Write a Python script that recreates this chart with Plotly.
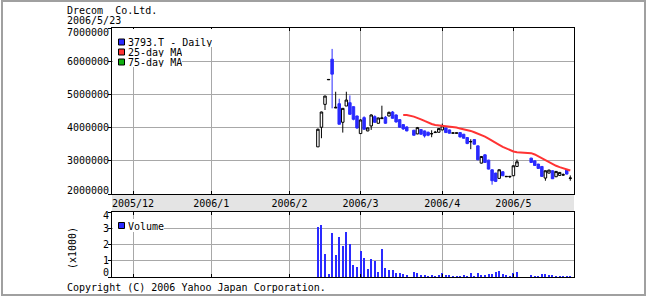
import plotly.graph_objects as go

# ---------------- data ----------------
dates = [
    "2006-02-13", "2006-02-14", "2006-02-15", "2006-02-16", "2006-02-17",
    "2006-02-20", "2006-02-21", "2006-02-22", "2006-02-23", "2006-02-24",
    "2006-02-27", "2006-02-28", "2006-03-01", "2006-03-02", "2006-03-03",
    "2006-03-06", "2006-03-07", "2006-03-08", "2006-03-09", "2006-03-10",
    "2006-03-13", "2006-03-14", "2006-03-15", "2006-03-16", "2006-03-17",
    "2006-03-20", "2006-03-22", "2006-03-23", "2006-03-24",
    "2006-03-27", "2006-03-28", "2006-03-29", "2006-03-30", "2006-03-31",
    "2006-04-03", "2006-04-04", "2006-04-05", "2006-04-06", "2006-04-07",
    "2006-04-10", "2006-04-11", "2006-04-12", "2006-04-13", "2006-04-14",
    "2006-04-17", "2006-04-18", "2006-04-19", "2006-04-20", "2006-04-21",
    "2006-04-24", "2006-04-25", "2006-04-26", "2006-04-27", "2006-04-28",
    "2006-05-01", "2006-05-02",
    "2006-05-08", "2006-05-09", "2006-05-10", "2006-05-11", "2006-05-12",
    "2006-05-15", "2006-05-16", "2006-05-17", "2006-05-18", "2006-05-19",
    "2006-05-22", "2006-05-23",
]

open_ = [
    3420000, 4010000, 4700000, 5440000, 6060000,
    4590000, 4720000, 4160000, 4650000, 4750000,
    4630000, 4350000, 3820000, 4300000, 3900000,
    4050000, 4330000, 4130000, 4270000, 4310000,
    4350000, 4470000, 4380000, 4240000, 4090000,
    4020000, 3920000, 3810000, 3940000,
    3900000, 3860000, 3810000, 3850000, 3860000,
    3930000, 3990000, 3930000, 3830000, 3830000,
    3850000, 3800000, 3700000, 3570000, 3640000,
    3450000, 2930000, 3180000, 3020000, 2730000,
    2630000, 2470000, 2670000, 2520000, 2520000,
    2550000, 2830000,
    3080000, 3000000, 2900000, 2830000, 2480000,
    2630000, 2700000, 2520000, 2560000, 2570000,
    2720000, 2470000,
]
high = [
    3970000, 4480000, 4960000, 5450000, 6370000,
    5080000, 4870000, 4590000, 5080000, 4970000,
    4640000, 4360000, 4250000, 4340000, 4000000,
    4400000, 4370000, 4300000, 4660000, 4350000,
    4480000, 4500000, 4400000, 4250000, 4100000,
    4040000, 3930000, 4020000, 3950000,
    3910000, 3880000, 3920000, 3900000, 3980000,
    4120000, 4000000, 3940000, 3850000, 3840000,
    3860000, 3810000, 3710000, 3650000, 3650000,
    3460000, 3140000, 3200000, 3030000, 2740000,
    2640000, 2740000, 2680000, 2540000, 2540000,
    2860000, 3040000,
    3090000, 3010000, 2910000, 2840000, 2710000,
    2730000, 2710000, 2690000, 2660000, 2620000,
    2730000, 2560000,
]
low = [
    3420000, 3680000, 4530000, 5440000, 4580000,
    4590000, 4100000, 3850000, 4650000, 4390000,
    4220000, 3960000, 3810000, 3930000, 3890000,
    3930000, 4150000, 4120000, 4260000, 4110000,
    4340000, 4270000, 4150000, 4000000, 3930000,
    3890000, 3760000, 3800000, 3790000,
    3700000, 3740000, 3710000, 3840000, 3850000,
    3920000, 3840000, 3820000, 3830000, 3820000,
    3700000, 3670000, 3500000, 3350000, 3490000,
    3020000, 2920000, 2940000, 2740000, 2280000,
    2360000, 2460000, 2540000, 2510000, 2480000,
    2540000, 2820000,
    2940000, 2850000, 2760000, 2520000, 2400000,
    2620000, 2450000, 2510000, 2550000, 2550000,
    2590000, 2400000,
]
close = [
    3950000, 4470000, 4950000, 5450000, 5610000,
    4610000, 4100000, 4580000, 4830000, 4400000,
    4250000, 3990000, 4230000, 3950000, 3990000,
    4380000, 4160000, 4290000, 4290000, 4130000,
    4460000, 4280000, 4170000, 4010000, 3960000,
    3900000, 3770000, 4000000, 3800000,
    3750000, 3770000, 3820000, 3860000, 3970000,
    4050000, 3850000, 3830000, 3840000, 3840000,
    3720000, 3680000, 3520000, 3580000, 3500000,
    3030000, 3130000, 2950000, 2750000, 2400000,
    2380000, 2730000, 2550000, 2530000, 2530000,
    2850000, 2970000,
    2950000, 2860000, 2770000, 2530000, 2700000,
    2720000, 2460000, 2680000, 2650000, 2580000,
    2600000, 2480000,
]

ma25_dates = dates[24:]
ma25 = [
    4380000, 4380000, 4330000, 4300000, 4250000,
    4200000, 4150000, 4110000, 4080000, 4070000,
    4050000, 4040000, 4030000, 4020000, 4000000,
    3970000, 3950000, 3930000, 3900000, 3860000,
    3820000, 3780000, 3730000, 3670000, 3600000,
    3540000, 3480000, 3420000, 3370000, 3320000,
    3280000, 3260000,
    3230000, 3190000, 3130000, 3070000, 3010000,
    2950000, 2900000, 2850000, 2810000, 2770000,
    2730000, 2710000,
]

volume_k = [
    3.06, 3.19, 1.44, 0.19, 2.69,
    1.38, 2.44, 1.88, 2.75, 2.06,
    0.75, 0.63, 1.63, 1.19, 0.50,
    1.13, 1.00, 0.31, 1.75, 0.56,
    0.44, 0.44, 0.25, 0.25, 0.19,
    0.13, 0.31, 0.25, 0.13,
    0.13, 0.06, 0.13, 0.06, 0.13,
    0.25, 0.13, 0.13, 0.01, 0.01,
    0.06, 0.13, 0.06, 0.25, 0.06,
    0.25, 0.13, 0.13, 0.19, 0.19,
    0.31, 0.37, 0.19, 0.13, 0.06,
    0.25, 0.31,
    0.13, 0.06, 0.06, 0.19, 0.19,
    0.13, 0.13, 0.06, 0.01, 0.06,
    0.06, 0.06,
]

month_ticks = ["2005-12-01", "2006-01-02", "2006-02-01", "2006-03-01", "2006-04-03", "2006-05-01"]
month_labels = ["2005/12", "2006/1", "2006/2", "2006/3", "2006/4", "2006/5"]
price_ticks = [2000000, 3000000, 4000000, 5000000, 6000000, 7000000]
volume_ticks = [0, 1, 2, 3, 4]

title_text = "Drecom  Co.Ltd."
date_text = "2006/5/23"
legend_names = ["3793.T - Daily", "25-day MA", "75-day MA"]
copyright_text = "Copyright (C) 2006 Yahoo Japan Corporation."

# ---------------- style ----------------
BLUE = "#2a2aff"
RED = "#ff3333"
GREEN = "#10b010"
GRID = "#a8a8a8"
BAND = "#e4e4e4"
FRAME = "#a0a0a0"
FONT = dict(family="DejaVu Sans Mono", size=10, color="black")

W, H = 648, 298
L, R, T, B = 112, 74, 28, 21
PW, PH = W - L - R, H - T - B


def px(x):
    return (x - L) / PW


def py(y):
    return (H - B - y) / PH


fig = go.Figure()

fig.add_trace(go.Candlestick(
    x=dates, open=open_, high=high, low=low, close=close,
    xaxis="x", yaxis="y",
    increasing=dict(line=dict(color="black", width=1), fillcolor="white"),
    decreasing=dict(line=dict(color=BLUE, width=1), fillcolor=BLUE),
    whiskerwidth=0, showlegend=False, hoverinfo="skip",
))
fig.add_trace(go.Scatter(
    x=ma25_dates, y=ma25, mode="lines", xaxis="x", yaxis="y",
    line=dict(color=RED, width=2), showlegend=False, hoverinfo="skip",
))
fig.add_trace(go.Bar(
    x=dates, y=volume_k, xaxis="x2", yaxis="y2",
    width=0.3 * 86400000,
    marker=dict(color=BLUE, line=dict(width=0)),
    showlegend=False, hoverinfo="skip",
))

rb = [dict(bounds=["sat", "mon"])]
xr = ["2005-11-23 02:00", "2006-05-24 01:00"]
common = dict(showline=True, linecolor="black", linewidth=1, mirror="ticks",
              showgrid=True, gridcolor=GRID, gridwidth=1, zeroline=False,
              tickcolor="black")

fig.update_layout(
    width=W, height=H,
    margin=dict(l=L, r=R, t=T, b=B, pad=0),
    paper_bgcolor="white", plot_bgcolor="white",
    font=FONT, boxgap=0, bargap=0,
    showlegend=False,
    xaxis=dict(domain=[0, 1], anchor="y", range=xr, rangebreaks=rb,
               tickmode="array", tickvals=month_ticks, ticktext=month_labels,
               ticks="inside", ticklen=3, tickfont=FONT,
               rangeslider=dict(visible=False), **common),
    xaxis2=dict(domain=[0, 1], anchor="y2", range=xr, rangebreaks=rb, matches="x",
                tickmode="array", tickvals=month_ticks, showticklabels=False,
                ticks="inside", ticklen=3, **common),
    yaxis=dict(domain=[py(194), 1], anchor="x", range=[2000000, 7000000],
               tickmode="array", tickvals=price_ticks, showticklabels=False,
               ticks="outside", ticklen=3, **common),
    yaxis2=dict(domain=[0, py(212)], anchor="x2", range=[0, 4],
                tickmode="array", tickvals=volume_ticks, showticklabels=False,
                ticks="outside", ticklen=3, **common),
)
fig.update_yaxes(mirror=True)

shapes = []
# gray band between panels
shapes.append(dict(type="rect", xref="paper", yref="paper", x0=0, x1=1,
                   y0=py(212), y1=py(194), fillcolor=BAND, line=dict(width=0),
                   layer="below"))
# outer frame
shapes.append(dict(type="rect", xref="paper", yref="paper", x0=px(2), x1=px(645),
                   y0=py(295), y1=py(1), line=dict(color=FRAME, width=2),
                   fillcolor="rgba(0,0,0,0)", layer="above"))
# legend backgrounds
shapes.append(dict(type="rect", xref="paper", yref="paper", x0=px(113), x1=px(212),
                   y0=py(47), y1=py(29), fillcolor="white", line=dict(width=0), layer="above"))
shapes.append(dict(type="rect", xref="paper", yref="paper", x0=px(113), x1=px(182),
                   y0=py(67), y1=py(47), fillcolor="white", line=dict(width=0), layer="above"))
shapes.append(dict(type="rect", xref="paper", yref="paper", x0=px(113), x1=px(164),
                   y0=py(232), y1=py(219), fillcolor="white", line=dict(width=0), layer="above"))
legend_colors = [BLUE, RED, GREEN]
legend_y = [42, 52, 62]
for c, yy in zip(legend_colors, legend_y):
    shapes.append(dict(type="rect", xref="paper", yref="paper", x0=px(118.5), x1=px(124.5),
                       y0=py(yy + 3), y1=py(yy - 3), fillcolor=c,
                       line=dict(color="black", width=1), layer="above"))
shapes.append(dict(type="rect", xref="paper", yref="paper", x0=px(118.5), x1=px(124.5),
                   y0=py(228.5), y1=py(222.5), fillcolor=BLUE,
                   line=dict(color="black", width=1), layer="above"))

annotations = []


def txt(text, x, y, xanchor="left", yanchor="middle", xref="paper", yref="paper",
        yshift=0, textangle=0, height=None):
    a = dict(text=text, x=x, y=y, xref=xref, yref=yref,
             xanchor=xanchor, yanchor=yanchor, showarrow=False,
             font=FONT, borderpad=0, borderwidth=0, yshift=yshift,
             textangle=textangle)
    if height is not None:
        a["height"] = height
        a["valign"] = "middle"
    annotations.append(a)


txt(title_text, px(66.5), py(9.8), height=10)
txt(date_text, px(66.5), py(19.8), height=10)
txt(copyright_text, px(66.5), py(287))
for name, yy in zip(legend_names, legend_y):
    txt(name, px(127.5), py(yy), height=10)
txt("Volume", px(127.5), py(226))
txt("(x1000)", px(72.5), py(248.5), xanchor="center", textangle=-90)

for i, v in enumerate(price_ticks):
    shift = 4 if i == 0 else (-4 if i == len(price_ticks) - 1 else 0)
    txt(str(v), px(109), v, xanchor="right", yref="y", yshift=shift)
for i, v in enumerate(volume_ticks):
    shift = 4.5 if i == 0 else (-3 if i == len(volume_ticks) - 1 else 0)
    txt(str(v), px(109), v, xanchor="right", yref="y2", yshift=shift)

fig.update_layout(shapes=shapes, annotations=annotations)

fig.write_html("out.html")
